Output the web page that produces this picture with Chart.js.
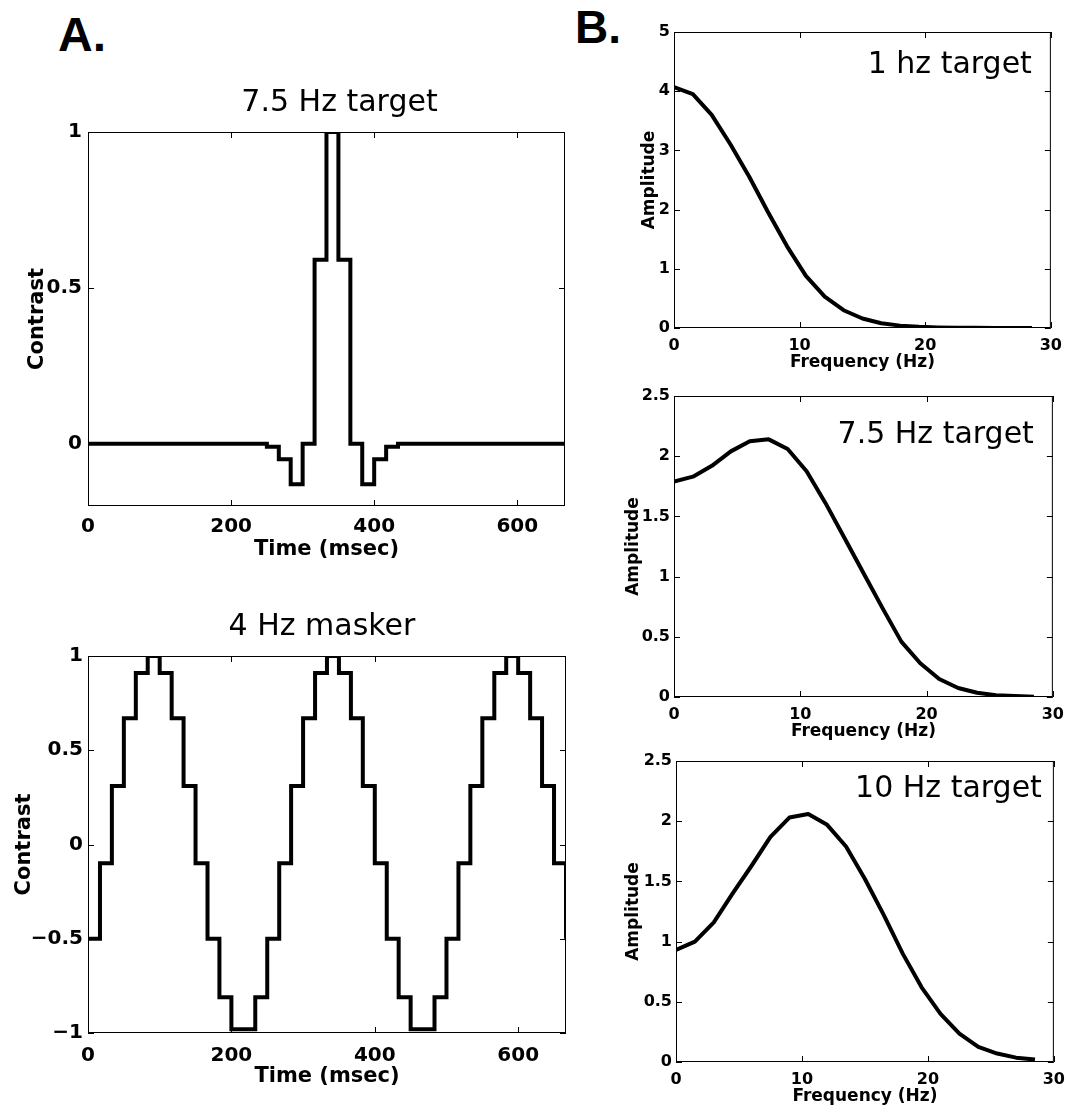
<!DOCTYPE html>
<html>
<head>
<meta charset="utf-8">
<title>Target and masker waveforms</title>
<script src="https://cdn.jsdelivr.net/npm/chart.js@4.4.1/dist/chart.umd.min.js"></script>
<style>
  body { margin: 0; background: #fff; }
  #page { position: relative; width: 1070px; height: 1107px; overflow: hidden; background: #fff; }
  #page canvas { position: absolute; }
  .panel { position: absolute; font-family: "Liberation Sans", Arial, sans-serif; font-weight: bold; line-height: 1; color: #000; }
</style>
</head>
<body>
<div id="page">
  <div class="panel" style="left:58px;top:11px;font-size:48px">A.</div>
  <div class="panel" style="left:575px;top:4px;font-size:46px">B.</div>
  <canvas id="targetChart" width="581" height="478" style="left:0;top:84px"></canvas>
  <canvas id="maskerChart" width="582" height="481" style="left:0;top:608px"></canvas>
  <canvas id="spec1Chart" width="455" height="355" style="left:615px;top:18px"></canvas>
  <canvas id="spec75Chart" width="457" height="360" style="left:615px;top:382px"></canvas>
  <canvas id="spec10Chart" width="458" height="360" style="left:615px;top:747px"></canvas>
</div>
<script>
// one sample per 60 Hz frame (msec)
const timeMs = [0, 16.7, 33.3, 50, 66.7, 83.3, 100, 116.7, 133.3, 150, 166.7, 183.3, 200, 216.7, 233.3,
  250, 266.7, 283.3, 300, 316.7, 333.3, 350, 366.7, 383.3, 400, 416.7, 433.3, 450, 466.7, 483.3,
  500, 516.7, 533.3, 550, 566.7, 583.3, 600, 616.7, 633.3, 650, 666.7];

const targetContrast = [0, 0, 0, 0, 0, 0, 0, 0, 0, 0, 0, 0, 0, 0, 0,
  -0.01, -0.05, -0.13, 0, 0.59, 1, 0.59, 0, -0.13, -0.05, -0.01,
  0, 0, 0, 0, 0, 0, 0, 0, 0, 0, 0, 0, 0, 0, 0];

const maskerContrast = [-0.5, -0.1, 0.31, 0.67, 0.91, 1, 0.91, 0.67, 0.31, -0.1, -0.5, -0.81, -0.98, -0.98, -0.81,
  -0.5, -0.1, 0.31, 0.67, 0.91, 1, 0.91, 0.67, 0.31, -0.1, -0.5, -0.81, -0.98, -0.98, -0.81,
  -0.5, -0.1, 0.31, 0.67, 0.91, 1, 0.91, 0.67, 0.31, -0.1, -0.5];

// amplitude spectra
const freqHz = [0, 1.5, 3, 4.5, 6, 7.5, 9, 10.5, 12, 13.5, 15, 16.5, 18, 19.5, 21, 22.5, 24, 25.5, 27, 28.5];
const amp1Hz = [4.07, 3.95, 3.6, 3.1, 2.55, 1.95, 1.38, 0.88, 0.53, 0.3, 0.16, 0.08, 0.04, 0.02, 0.01, 0.005, 0.003, 0.002, 0.001, 0.001];
const amp75Hz = [1.79, 1.83, 1.92, 2.04, 2.125, 2.14, 2.06, 1.875, 1.61, 1.32, 1.03, 0.74, 0.46, 0.28, 0.15, 0.075, 0.035, 0.015, 0.008, 0.003];
const amp10Hz = [0.93, 1.0, 1.16, 1.4, 1.63, 1.87, 2.03, 2.06, 1.97, 1.79, 1.52, 1.22, 0.9, 0.62, 0.4, 0.235, 0.125, 0.07, 0.036, 0.02];

// tick labels
const timeTicks = [0, 200, 400, 600];
const targetTicks = [0, 0.5, 1];
const maskerTicks = [-1, -0.5, 0, 0.5, 1];
const freqTicks = [0, 10, 20, 30];
const amp1Ticks = [0, 1, 2, 3, 4, 5];
const amp2Ticks = [0, 0.5, 1, 1.5, 2, 2.5];

const FONT = '"DejaVu Sans", sans-serif';

// matlab style box with inward ticks on all four sides
const frameTicks = {
  id: 'frameTicks',
  beforeDatasetsDraw(chart) {
    const { ctx, chartArea: a, scales } = chart;
    ctx.save();
    ctx.strokeStyle = '#000';
    ctx.lineWidth = 1;
    ctx.strokeRect(a.left + 0.5, a.top + 0.5, a.right - a.left - 1, a.bottom - a.top - 1);
    ctx.beginPath();
    scales.x.ticks.forEach(t => {
      const px = Math.round(scales.x.getPixelForValue(t.value)) + 0.5;
      ctx.moveTo(px, a.bottom); ctx.lineTo(px, a.bottom - 6);
      ctx.moveTo(px, a.top); ctx.lineTo(px, a.top + 6);
    });
    scales.y.ticks.forEach(t => {
      const py = Math.round(scales.y.getPixelForValue(t.value)) + 0.5;
      ctx.moveTo(a.left, py); ctx.lineTo(a.left + 6, py);
      ctx.moveTo(a.right, py); ctx.lineTo(a.right - 6, py);
    });
    ctx.stroke();
    ctx.restore();
  }
};

// titles above the box and labels inside it
const captions = {
  id: 'captions',
  afterDatasetsDraw(chart, args, opts) {
    const { ctx, chartArea: a } = chart;
    (opts.items || []).forEach(c => {
      ctx.save();
      ctx.font = '30px ' + FONT;
      ctx.fillStyle = '#000';
      ctx.textBaseline = 'alphabetic';
      if (c.align === 'right') {
        ctx.textAlign = 'right';
        ctx.fillText(c.text, a.right - c.dx, a.top + c.dy);
      } else {
        ctx.textAlign = 'center';
        ctx.fillText(c.text, (a.left + a.right) / 2 + c.dx, a.top + c.dy);
      }
      ctx.restore();
    });
  }
};

const fmt = v => String(v).replace('-', '\u2212');

function drawChart(id, s) {
  return new Chart(document.getElementById(id), {
    type: 'line',
    data: {
      datasets: [{
        data: s.xs.map((x, i) => ({ x: x, y: s.ys[i] })),
        borderColor: '#000',
        borderWidth: 4,
        pointRadius: 0,
        stepped: s.stepped,
        tension: 0,
        fill: false,
        borderJoinStyle: s.stepped ? 'miter' : 'round',
        borderCapStyle: 'butt'
      }]
    },
    options: {
      responsive: false,
      animation: false,
      layout: { padding: s.pad },
      plugins: {
        legend: { display: false },
        tooltip: { enabled: false },
        captions: { items: s.captions }
      },
      scales: {
        x: {
          type: 'linear',
          min: s.xMin,
          max: s.xMax,
          afterBuildTicks: sc => { sc.ticks = s.xTicks.map(v => ({ value: v })); },
          afterFit: sc => { sc.height = s.xH; },
          grid: { display: false, drawTicks: false },
          border: { display: false },
          ticks: { autoSkip: false, maxRotation: 0, padding: s.xPad, color: '#000',
            font: { family: FONT, size: s.tickSize, weight: 'bold' }, callback: fmt },
          title: { display: true, text: s.xTitle, color: '#000', padding: { top: 0, bottom: 0 },
            font: { family: FONT, size: s.axisSize, weight: 'bold' } }
        },
        y: {
          type: 'linear',
          min: s.yMin,
          max: s.yMax,
          afterBuildTicks: sc => { sc.ticks = s.yTicks.map(v => ({ value: v })); },
          afterFit: sc => { sc.width = s.yW; },
          grid: { display: false, drawTicks: false },
          border: { display: false },
          ticks: { autoSkip: false, padding: s.yPad, color: '#000',
            font: { family: FONT, size: s.tickSize, weight: 'bold' }, callback: fmt },
          title: { display: true, text: s.yTitle, color: '#000', padding: { top: s.yTitlePad, bottom: 0 },
            font: { family: FONT, size: s.axisSize, weight: 'bold' } }
        }
      }
    },
    plugins: [frameTicks, captions]
  });
}

// panel A: stimulus time courses
drawChart('targetChart', {
  xs: timeMs, ys: targetContrast, stepped: true,
  pad: { top: 48, right: 16, bottom: 0, left: 0 },
  xMin: 0, xMax: 666.7, yMin: -0.2, yMax: 1,
  xTicks: timeTicks, yTicks: targetTicks,
  xH: 56, yW: 88, xPad: 9, yPad: 6, yTitlePad: 25,
  tickSize: 20, axisSize: 21,
  xTitle: 'Time (msec)', yTitle: 'Contrast',
  captions: [{ text: '7.5 Hz target', dx: 13, dy: -21 }]
});

drawChart('maskerChart', {
  xs: timeMs, ys: maskerContrast, stepped: true,
  pad: { top: 48, right: 16, bottom: 0, left: 0 },
  xMin: 0, xMax: 666.7, yMin: -1, yMax: 1,
  xTicks: timeTicks, yTicks: maskerTicks,
  xH: 56, yW: 88, xPad: 11, yPad: 5, yTitlePad: 12,
  tickSize: 20, axisSize: 21,
  xTitle: 'Time (msec)', yTitle: 'Contrast',
  captions: [{ text: '4 Hz masker', dx: -5, dy: -21 }]
});

// panel B: amplitude spectra
drawChart('spec1Chart', {
  xs: freqHz, ys: amp1Hz, stepped: false,
  pad: { top: 14, right: 16, bottom: 0, left: 0 },
  xMin: 0, xMax: 30, yMin: 0, yMax: 5,
  xTicks: freqTicks, yTicks: amp1Ticks,
  xH: 45, yW: 59, xPad: 8, yPad: 4, yTitlePad: 24,
  tickSize: 16, axisSize: 17,
  xTitle: 'Frequency (Hz)', yTitle: 'Amplitude',
  captions: [{ text: '1 hz target', align: 'right', dx: 19, dy: 41 }]
});

drawChart('spec75Chart', {
  xs: freqHz, ys: amp75Hz, stepped: false,
  pad: { top: 14, right: 16, bottom: 0, left: 0 },
  xMin: 0, xMax: 30, yMin: 0, yMax: 2.5,
  xTicks: freqTicks, yTicks: amp2Ticks,
  xH: 45, yW: 59, xPad: 8, yPad: 4, yTitlePad: 8,
  tickSize: 16, axisSize: 17,
  xTitle: 'Frequency (Hz)', yTitle: 'Amplitude',
  captions: [{ text: '7.5 Hz target', align: 'right', dx: 19, dy: 47 }]
});

drawChart('spec10Chart', {
  xs: freqHz, ys: amp10Hz, stepped: false,
  pad: { top: 14, right: 16, bottom: 0, left: 0 },
  xMin: 0, xMax: 30, yMin: 0, yMax: 2.5,
  xTicks: freqTicks, yTicks: amp2Ticks,
  xH: 45, yW: 61, xPad: 8, yPad: 4, yTitlePad: 8,
  tickSize: 16, axisSize: 17,
  xTitle: 'Frequency (Hz)', yTitle: 'Amplitude',
  captions: [{ text: '10 Hz target', align: 'right', dx: 12, dy: 36 }]
});
</script>
</body>
</html>
